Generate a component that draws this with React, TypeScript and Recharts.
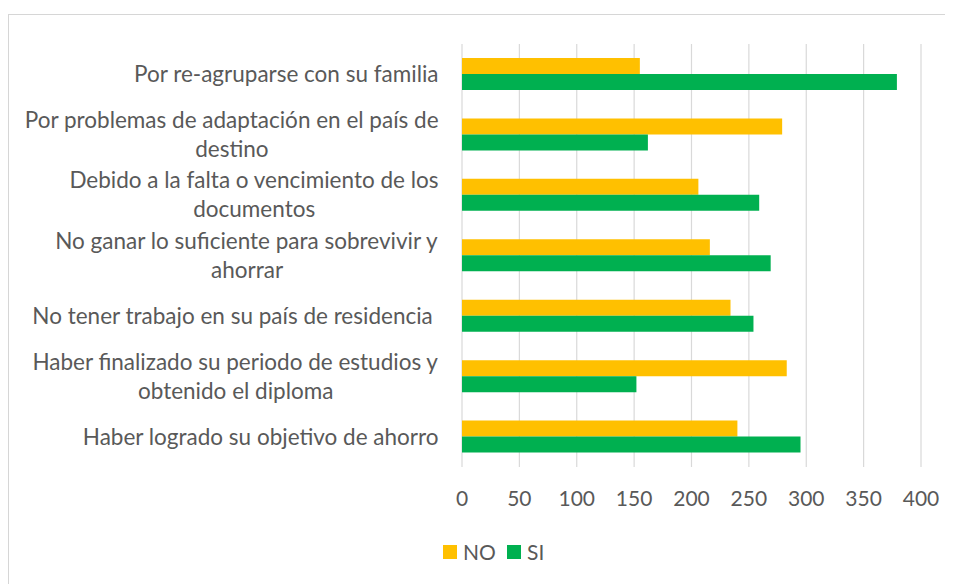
import React from "react";
import { Bar, BarChart, CartesianGrid, XAxis, YAxis } from "recharts";

const categories = [
  "Por re-agruparse con su familia",
  "Por problemas de adaptación en el país de\ndestino",
  "Debido a la falta o vencimiento de los\ndocumentos",
  "No ganar lo suficiente para sobrevivir y\nahorrar",
  "No tener trabajo en su país de residencia ",
  "Haber finalizado su periodo de estudios y\nobtenido el diploma",
  "Haber logrado su objetivo de ahorro",
];
const noValues = [155, 279, 206, 216, 234, 283, 240];
const siValues = [379, 162, 259, 269, 254, 152, 295];
const xTicks = [0, 50, 100, 150, 200, 250, 300, 350, 400];

const data = categories.map((name, i) => ({ name, NO: noValues[i], SI: siValues[i] }));

const FONT = "Lato, 'Open Sans', sans-serif";
const LABEL_SIZE = 22.5;

let ctx: CanvasRenderingContext2D | null = null;
function textWidth(s: string) {
  if (!ctx) ctx = document.createElement("canvas").getContext("2d");
  if (!ctx) return s.length * LABEL_SIZE * 0.5;
  ctx.font = `${LABEL_SIZE}px Lato`;
  return ctx.measureText(s).width;
}

function CategoryTick(props: any) {
  const { x, y, payload } = props;
  const lines: string[] = String(payload.value).split("\n");
  const widths = lines.map(textWidth);
  const block = Math.max(...widths);
  const right = x - 15;
  const lh = 29;
  const y0 = y - ((lines.length - 1) * lh) / 2;
  return (
    <g>
      {lines.map((l, i) => (
        <text
          key={i}
          x={right - block / 2 - widths[i] / 2}
          y={y0 + i * lh}
          dy="0.35em"
          fill="#595959"
          fontSize={LABEL_SIZE}
          fontFamily={FONT}
          textAnchor="start"
        >
          {l}
        </text>
      ))}
    </g>
  );
}

const legendItems = [
  { label: "NO", color: "#FFC000", left: 435 },
  { label: "SI", color: "#00B050", left: 499 },
];

export default function App() {
  return (
    <div style={{ position: "relative", width: 945, height: 576, background: "#fff" }}>
      <div
        style={{
          position: "absolute",
          left: 0,
          top: 6,
          width: 960,
          height: 600,
          borderLeft: "1px solid #d6d6d6",
          borderTop: "1px solid #d6d6d6",
        }}
      />
      <BarChart
        width={945}
        height={576}
        data={data}
        layout="vertical"
        margin={{ top: 36, right: 32, bottom: 0, left: 0 }}
        barGap={0}
        barSize={16}
        style={{ position: "absolute", left: 0, top: 0 }}
      >
        <CartesianGrid horizontal={false} stroke="#d9d9d9" strokeWidth={1.2} />
        <XAxis
          type="number"
          domain={[0, 400]}
          ticks={xTicks}
          axisLine={false}
          tickLine={false}
          tickSize={0}
          tickMargin={24}
          height={117}
          tick={{ fill: "#595959", fontSize: 21, fontFamily: FONT }}
          interval={0}
        />
        <YAxis
          type="category"
          dataKey="name"
          width={454}
          axisLine={false}
          tickLine={false}
          interval={0}
          tick={<CategoryTick />}
        />
        <Bar dataKey="NO" fill="#FFC000" isAnimationActive={false} />
        <Bar dataKey="SI" fill="#00B050" isAnimationActive={false} />
      </BarChart>
      {legendItems.map((it) => (
        <div
          key={it.label}
          style={{
            position: "absolute",
            left: it.left,
            top: 531,
            height: 25,
            display: "flex",
            alignItems: "center",
            fontFamily: FONT,
            fontSize: 21,
            color: "#595959",
          }}
        >
          <span style={{ width: 14, height: 14, background: it.color, display: "inline-block", marginRight: 6 }} />
          <span>{it.label}</span>
        </div>
      ))}
    </div>
  );
}
